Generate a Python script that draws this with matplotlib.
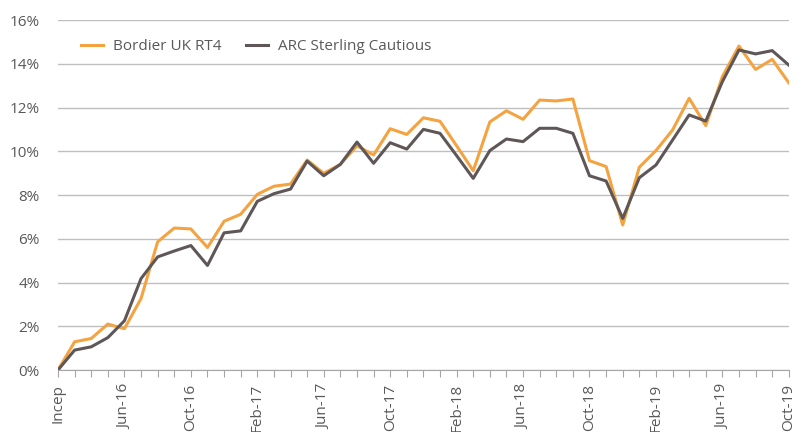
import numpy as np
import matplotlib.pyplot as plt

# Monthly performance since inception (Feb-16), in %
months = ['Incep', 'Mar-16', 'Apr-16', 'May-16', 'Jun-16', 'Jul-16', 'Aug-16', 'Sep-16',
          'Oct-16', 'Nov-16', 'Dec-16', 'Jan-17', 'Feb-17', 'Mar-17', 'Apr-17', 'May-17',
          'Jun-17', 'Jul-17', 'Aug-17', 'Sep-17', 'Oct-17', 'Nov-17', 'Dec-17', 'Jan-18',
          'Feb-18', 'Mar-18', 'Apr-18', 'May-18', 'Jun-18', 'Jul-18', 'Aug-18', 'Sep-18',
          'Oct-18', 'Nov-18', 'Dec-18', 'Jan-19', 'Feb-19', 'Mar-19', 'Apr-19', 'May-19',
          'Jun-19', 'Jul-19', 'Aug-19', 'Sep-19', 'Oct-19']
bordier = [0.0, 1.29, 1.44, 2.10, 1.89, 3.27, 5.86, 6.49, 6.45, 5.60, 6.80, 7.12,
           8.03, 8.40, 8.50, 9.60, 8.99, 9.40, 10.25, 9.83, 11.03, 10.77, 11.53, 11.37,
           10.25, 9.11, 11.34, 11.85, 11.46, 12.34, 12.30, 12.39, 9.57, 9.30, 6.63,
           9.27, 10.03, 10.97, 12.42, 11.17, 13.41, 14.81, 13.74, 14.20, 13.13]
arc_cautious = [0.0, 0.91, 1.06, 1.48, 2.25, 4.18, 5.17, 5.44, 5.69, 4.78, 6.27, 6.36,
                7.71, 8.06, 8.27, 9.55, 8.88, 9.40, 10.42, 9.45, 10.39, 10.10, 11.00, 10.82,
                9.80, 8.76, 10.03, 10.56, 10.44, 11.05, 11.05, 10.82, 8.88, 8.64, 6.93,
                8.79, 9.37, 10.51, 11.66, 11.38, 13.18, 14.63, 14.45, 14.60, 13.94]

text_col = '#595959'
plt.rcParams['font.family'] = ['Open Sans', 'DejaVu Sans']

fig = plt.figure(figsize=(8, 4.32), dpi=100)
ax = fig.add_axes([0.0725, 0.1435, 0.9135, 0.8102])

x = np.arange(len(months))
ax.plot(x, bordier, color='#F4A340', lw=2.2, label='Bordier UK RT4', zorder=3)
ax.plot(x, arc_cautious, color='#5F5757', lw=2.2, label='ARC Sterling Cautious', zorder=3)

ax.set_xlim(0, len(months) - 1)
ax.set_ylim(0, 16)
ax.set_yticks(np.arange(0, 17, 2))
ax.set_yticklabels([f'{v}%' for v in range(0, 17, 2)], color=text_col, fontsize=11)
ax.yaxis.grid(True, color='#BFBFBF', lw=1)
ax.set_axisbelow(True)
ax.tick_params(axis='y', length=0, pad=13)

ax.set_xticks(x)
ax.set_xticklabels([m if i % 4 == 0 else '' for i, m in enumerate(months)],
                   rotation=90, color=text_col, fontsize=11)
ax.tick_params(axis='x', length=5, color='#A6A6A6', pad=5)

for s in ['top', 'right', 'left']:
    ax.spines[s].set_visible(False)
ax.spines['bottom'].set_color('#A6A6A6')

leg = ax.legend(loc='upper left', bbox_to_anchor=(0.012, 0.985), ncol=2, frameon=False,
                fontsize=11, handlelength=1.5, columnspacing=1.6, handletextpad=0.6)
for t in leg.get_texts():
    t.set_color(text_col)

fig.savefig('out.png', dpi=100)
